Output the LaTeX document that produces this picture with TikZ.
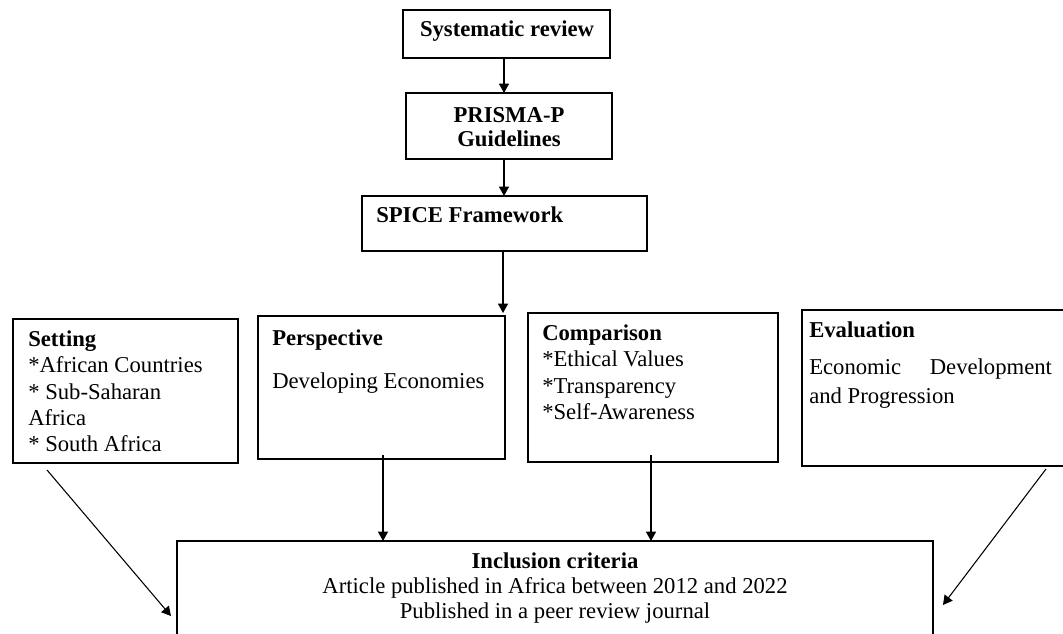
\documentclass[tikz,border=0pt]{standalone}
\usepackage{fontspec}
\setmainfont{Liberation Serif}
\usetikzlibrary{fit,arrows.meta}
\begin{document}
\begin{tikzpicture}[x=0.75pt,y=-0.75pt,
  box/.style={draw, line width=1.1pt, inner sep=0pt, rectangle},
  txt/.style={font=\fontsize{17}{19.5}\selectfont, inner sep=0pt},
  btxt/.style={font=\fontsize{17}{19.5}\selectfont\bfseries, inner sep=0pt},
  arr/.style={line width=0.8pt, -{Triangle[length=7pt,width=7.5pt]}}]
\clip (0,0) rectangle (1063,634);
\fill[white] (0,0) rectangle (1063,634);
% boxes
\node[box, fit={(403,10)(610,58)}] (sys) {};
\node[box, fit={(406,93)(612,159)}] (prisma) {};
\node[box, fit={(362,196)(647,251)}] (spice) {};
\node[box, fit={(13,319)(238,463)}] (setting) {};
\node[box, fit={(258,316)(505,459)}] (persp) {};
\node[box, fit={(528,313)(778,462)}] (comp) {};
\node[box, fit={(802,310)(1080,466)}] (eval) {};
\node[box, fit={(177,541)(933,680)}] (incl) {};
% texts
\node[btxt, anchor=base] (t-sys) at (507,37) {Systematic review};
\node[btxt, anchor=base] (t-pr1) at (509,123) {PRISMA-P};
\node[btxt, anchor=base] (t-pr2) at (509,147) {Guidelines};
\node[btxt, anchor=base west] (t-spice) at (376,223) {SPICE Framework};
\node[btxt, anchor=base west] (t-set0) at (28,347) {Setting};
\node[txt, anchor=base west] (t-set1) at (28,373) {*African Countries};
\node[txt, anchor=base west] (t-set2) at (28,399) {* Sub-Saharan};
\node[txt, anchor=base west] (t-set3) at (28,425) {Africa};
\node[txt, anchor=base west] (t-set4) at (28,451) {* South Africa};
\node[btxt, anchor=base west] (t-per0) at (272,345) {Perspective};
\node[txt, anchor=base west] (t-per1) at (272,388) {Developing Economies};
\node[btxt, anchor=base west] (t-com0) at (542,340) {Comparison};
\node[txt, anchor=base west] (t-com1) at (542,367) {*Ethical Values};
\node[txt, anchor=base west] (t-com2) at (542,393) {*Transparency};
\node[txt, anchor=base west] (t-com3) at (542,419) {*Self-Awareness};
\node[btxt, anchor=base west] (t-ev0) at (809,338) {Evaluation};
\node[txt, anchor=base west] (t-ev1) at (809,374) {\makebox[182pt][s]{Economic Development}};
\node[txt, anchor=base west] (t-ev2) at (809,403) {and Progression};
\node[btxt, anchor=base] (t-in0) at (555,568) {Inclusion criteria};
\node[txt, anchor=base] (t-in1) at (555,593) {Article published in Africa between 2012 and 2022};
\node[txt, anchor=base] (t-in2) at (555,618) {Published in a peer review journal};
% connectors
\coordinate (spiceend) at (503,313);
\coordinate (setstart) at (47,470);
\coordinate (setend) at (171,616);
\coordinate (evstart) at (1046,469);
\coordinate (evend) at (943,605);
\draw[arr] (sys.south -| 504,0) -- (504,93);
\draw[arr] (prisma.south -| 504,0) -- (504,196);
\draw[arr] (503,251) -- (spiceend);
\draw[arr] (383,455) -- (383,541);
\draw[arr] (651,455) -- (651,541);
\draw[arr] (setstart) -- (setend);
\draw[arr] (evstart) -- (evend);
\end{tikzpicture}
\end{document}
